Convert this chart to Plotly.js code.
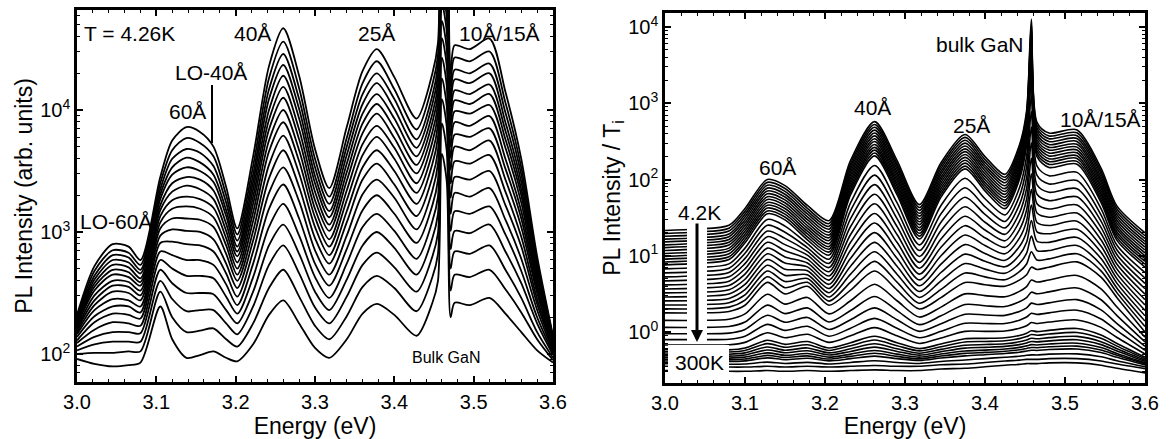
<!DOCTYPE html>
<html>
<head>
<meta charset="utf-8">
<script src="https://cdn.plot.ly/plotly-3.0.1.min.js"></script>
<style>html,body{margin:0;padding:0;background:#fff;}#chart{width:1175px;height:439px;}</style>
</head>
<body>
<div id="chart"></div>
<script>
// ---------- Left panel: PL spectra at T = 4.26 K (bottom curve first) ----------
const energyLeft = [3.000,3.022,3.045,3.065,3.080,3.105,3.120,3.138,3.155,3.172,3.188,3.202,3.222,3.242,3.260,3.280,3.300,3.318,3.340,3.360,3.378,3.400,3.428,3.448,3.455,3.460,3.466,3.471,3.476,3.495,3.520,3.540,3.560,3.580,3.600];
const leftSpectra = [
[91,83,79,81,85,245,132,93,98,105,93,87,120,209,275,178,112,93,132,214,257,209,141,263,398,4370,2620,200,263,251,288,214,151,107,85],
[100,102,102,105,105,324,200,151,155,162,132,115,178,347,490,295,170,132,204,355,437,347,224,427,661,7760,4660,331,447,427,490,339,219,132,89],
[107,120,126,126,126,398,282,224,229,229,178,145,245,537,776,457,240,178,295,537,676,513,324,631,977,12300,7380,501,692,661,776,490,288,151,93],
[115,138,151,151,148,490,380,316,316,309,229,178,324,776,1150,661,324,229,407,776,1000,741,447,891,1410,18200,10900,724,1020,977,1150,692,380,178,98],
[123,158,182,178,170,589,501,437,437,417,295,214,427,1100,1700,933,427,288,550,1100,1410,1020,603,1230,1950,26900,16100,1020,1480,1410,1620,955,479,200,102],
[129,182,214,209,195,692,646,589,589,537,372,251,550,1550,2450,1290,550,363,724,1510,2000,1410,813,1660,2690,38900,23300,1410,2090,1950,2290,1260,603,229,105],
[138,204,245,245,219,813,832,794,776,692,457,295,692,2090,3390,1780,708,447,933,2040,2690,1910,1050,2190,3630,53700,32200,1910,2820,2690,3160,1660,759,257,110],
[145,229,282,275,245,933,1050,1020,1000,871,550,347,851,2750,4680,2340,891,550,1200,2690,3630,2450,1350,2820,4680,74100,44500,2510,3800,3630,4270,2140,912,282,112],
[151,251,324,316,275,1070,1290,1290,1260,1100,661,398,1020,3550,6170,3020,1100,646,1480,3390,4680,3160,1700,3630,6030,97700,58600,3240,5010,4680,5620,2690,1100,316,115],
[158,275,363,355,302,1200,1550,1620,1550,1320,776,447,1230,4570,7940,3800,1320,759,1820,4270,6030,3980,2090,4470,7590,126000,75600,4070,6310,6030,7080,3310,1290,339,117],
[162,302,398,389,331,1350,1820,1950,1860,1580,891,501,1450,5620,10000,4680,1550,871,2190,5250,7410,4900,2510,5500,9330,158000,94800,5010,7940,7410,8910,3980,1480,372,120],
[170,331,447,427,363,1510,2140,2400,2240,1860,1020,562,1700,6920,12600,5750,1820,1020,2630,6460,9330,5890,3020,6610,11200,200000,120000,6170,9770,9330,11000,4900,1740,398,123],
[174,355,490,468,389,1660,2510,2820,2690,2190,1170,631,1950,8320,15500,6920,2140,1150,3090,7760,11200,7080,3550,7940,13500,245000,147000,7410,12000,11200,13500,5750,2000,427,126],
[182,380,537,513,417,1860,2950,3390,3160,2570,1350,692,2240,10000,19100,8510,2510,1320,3630,9330,13500,8510,4170,9330,16200,302000,181000,8910,14500,13500,16200,6760,2240,468,129],
[186,407,589,562,457,2040,3390,4070,3720,2950,1510,759,2570,12300,23400,10200,2880,1480,4270,11200,16600,10200,4900,11200,19500,372000,223000,10700,17800,16600,20000,7940,2570,501,132],
[195,437,646,617,490,2240,3980,4790,4470,3470,1740,851,2950,14800,28800,12300,3390,1700,5010,13500,20000,12300,5750,13200,23400,457000,274000,12900,21400,20000,24000,9550,2950,537,135],
[200,479,708,676,537,2510,4680,5890,5370,4170,2000,955,3470,18200,36300,15100,3980,1950,5890,16600,25100,14800,6920,16200,28200,575000,345000,15800,26900,25100,30200,11500,3390,575,138],
[209,525,794,759,589,2820,5620,7240,6610,5010,2340,1070,4170,22900,46800,19100,4790,2290,7240,20900,31600,18600,8510,20000,35500,741000,445000,20000,33900,31600,38500,14100,3980,631,141]
];

// ---------- Right panel: PL intensity / T_i, 4.2 K (first) to 300 K (last) ----------
const energyRight = [3.000,3.040,3.080,3.100,3.128,3.150,3.178,3.205,3.232,3.262,3.290,3.318,3.345,3.375,3.400,3.425,3.443,3.452,3.458,3.465,3.480,3.515,3.545,3.565,3.600];
const rightSpectra = [
[21.4,22.4,25.1,41.7,100,83.2,45.7,28.8,178,575,178,46.8,166,389,200,117,282,794,12600,562,407,447,141,44.7,20.0],
[19.6,20.5,23.0,38.2,91.7,76.3,41.9,26.4,163,527,163,42.9,152,357,183,107,259,728,10800,515,373,410,129,41.0,18.3],
[18.0,18.8,21.1,35.1,84.1,70.0,38.5,24.3,150,484,150,39.4,140,327,168,98.9,237,668,9270,473,343,376,119,37.6,16.8],
[16.5,17.2,19.3,32.2,77.1,64.2,35.3,22.3,138,444,138,36.1,128,300,154,90.7,217,613,7950,434,315,345,109,34.5,15.4],
[15.2,15.9,17.8,29.5,70.8,58.9,32.4,20.4,126,407,126,33.1,118,275,142,82.9,200,562,6820,398,288,316,100,31.6,14.2],
[13.9,14.6,16.3,27.1,64.9,54.0,29.7,18.7,116,373,116,30.4,108,252,130,76.0,183,515,5850,365,264,290,91.7,29.0,13.0],
[12.8,13.4,15.0,24.9,59.6,49.6,27.2,17.2,106,343,106,27.9,99.0,232,119,69.7,168,473,5010,335,243,266,84.0,26.6,11.9],
[11.7,12.3,13.8,22.8,54.7,45.5,24.9,15.8,97.2,315,97.2,25.6,90.8,213,109,63.9,154,434,4310,307,223,244,77.0,24.4,10.9],
[10.7,11.2,12.6,20.9,50.1,41.7,22.9,14.4,89.2,288,89.2,23.4,83.2,195,100,58.6,141,398,3700,282,204,224,70.6,22.4,10.0],
[9.81,10.3,11.6,19.2,45.9,38.2,21.0,13.2,81.8,264,81.8,21.5,76.3,179,91.7,53.7,129,365,3170,259,187,205,64.7,20.5,9.17],
[9.03,9.45,10.6,17.6,42.2,35.1,19.3,12.2,75.1,243,75.1,19.7,70.1,164,84.4,49.4,119,335,2720,237,172,189,59.5,18.9,8.44],
[8.28,8.67,9.72,16.1,38.7,32.2,17.7,11.2,68.9,223,68.9,18.1,64.3,150,77.4,45.3,109,307,2330,217,158,173,54.6,17.3,7.74],
[7.60,7.95,8.91,14.8,35.5,29.5,16.2,10.2,63.2,204,63.2,16.6,58.9,138,71.0,41.5,100,282,2000,200,144,159,50.1,15.9,7.10],
[6.72,7.01,7.82,12.6,29.9,24.5,14.4,9.02,49.6,153,49.6,13.9,45.7,104,55.9,34.3,77.6,203,1250,150,112,124,41.5,13.7,6.02],
[5.96,6.19,6.87,10.8,25.1,20.3,12.8,7.94,39.1,114,39.1,11.7,35.5,78.0,44.2,28.2,60.3,147,779,113,87.4,97.0,34.4,11.9,5.11],
[5.28,5.47,6.03,9.23,21.1,16.9,11.4,7.00,30.7,85.6,30.7,9.77,27.5,58.6,34.9,23.2,46.8,106,487,85.1,68.0,75.9,28.5,10.3,4.34],
[4.68,4.82,5.29,7.88,17.8,14.0,10.2,6.17,24.2,64.1,24.2,8.19,21.4,44.0,27.5,19.1,36.3,76.4,304,64.1,52.9,59.3,23.6,8.91,3.69],
[4.15,4.26,4.64,6.73,15.0,11.6,9.03,5.43,19.0,48.0,19.0,6.87,16.6,33.0,21.8,15.7,28.2,55.2,190,48.2,41.1,46.4,19.6,7.72,3.13],
[3.67,3.76,4.07,5.75,12.6,9.66,8.04,4.79,15.0,35.9,15.0,5.75,12.9,24.8,17.2,12.9,21.9,39.8,119,36.3,32.0,36.3,16.2,6.68,2.66],
[3.26,3.32,3.58,4.92,10.6,8.02,7.15,4.22,11.8,26.9,11.8,4.82,10.0,18.7,13.6,10.6,17.0,28.7,74.3,27.3,24.9,28.4,13.4,5.79,2.26],
[2.88,2.93,3.14,4.20,8.91,6.66,6.36,3.72,9.26,20.1,9.26,4.04,7.76,14.0,10.7,8.71,13.2,20.7,46.4,20.6,19.4,22.2,11.1,5.01,1.92],
[2.56,2.59,2.75,3.59,7.50,5.53,5.65,3.27,7.29,15.0,7.29,3.39,6.03,10.5,8.46,7.16,10.2,15.0,29.0,15.5,15.0,17.4,9.23,4.34,1.63],
[2.26,2.28,2.42,3.07,6.31,4.59,5.03,2.88,5.73,11.3,5.73,2.84,4.68,7.91,6.68,5.89,7.94,10.8,18.1,11.7,11.7,13.6,7.64,3.76,1.39],
[2.01,2.01,2.12,2.62,5.31,3.81,4.48,2.54,4.51,8.43,4.51,2.38,3.63,5.94,5.28,4.84,6.17,7.79,11.3,8.78,9.10,10.6,6.34,3.26,1.18],
[1.78,1.78,1.86,2.24,4.47,3.16,3.98,2.24,3.55,6.31,3.55,2.00,2.82,4.47,4.17,3.98,4.79,5.62,7.08,6.61,7.08,8.32,5.25,2.82,1.00],
[1.42,1.42,1.47,1.73,3.13,2.32,2.84,1.73,2.57,4.23,2.57,1.57,2.12,3.16,3.00,2.90,3.41,3.94,4.80,4.52,4.81,5.52,3.68,2.13,0.857],
[1.15,1.15,1.18,1.35,2.25,1.74,2.07,1.35,1.91,2.92,1.91,1.25,1.63,2.30,2.21,2.16,2.49,2.82,3.33,3.17,3.36,3.78,2.65,1.64,0.741],
[0.948,0.948,0.966,1.08,1.66,1.34,1.55,1.08,1.45,2.07,1.45,1.02,1.28,1.71,1.67,1.65,1.86,2.07,2.39,2.29,2.41,2.66,1.95,1.29,0.650],
[0.794,0.794,0.804,0.881,1.26,1.05,1.19,0.881,1.12,1.51,1.12,0.841,1.02,1.30,1.29,1.29,1.43,1.57,1.76,1.70,1.78,1.93,1.48,1.04,0.575],
[0.676,0.676,0.679,0.731,0.977,0.839,0.933,0.731,0.891,1.14,0.891,0.708,0.836,1.02,1.02,1.03,1.12,1.21,1.33,1.29,1.35,1.44,1.15,0.847,0.515],
[0.585,0.585,0.583,0.618,0.778,0.689,0.750,0.618,0.724,0.879,0.724,0.605,0.697,0.817,0.824,0.839,0.902,0.964,1.04,1.01,1.05,1.11,0.914,0.708,0.467],
[0.548,0.548,0.546,0.573,0.703,0.631,0.681,0.573,0.661,0.784,0.661,0.565,0.642,0.740,0.751,0.766,0.819,0.870,0.928,0.907,0.941,0.986,0.826,0.653,0.447],
[0.514,0.514,0.511,0.532,0.635,0.577,0.618,0.532,0.603,0.700,0.603,0.527,0.592,0.670,0.684,0.700,0.743,0.785,0.828,0.815,0.843,0.875,0.746,0.603,0.427],
[0.486,0.486,0.482,0.499,0.581,0.534,0.568,0.499,0.556,0.633,0.556,0.497,0.552,0.615,0.629,0.647,0.683,0.719,0.751,0.742,0.765,0.790,0.683,0.562,0.411],
[0.459,0.459,0.454,0.468,0.532,0.494,0.522,0.468,0.513,0.573,0.513,0.468,0.514,0.564,0.579,0.598,0.628,0.658,0.682,0.675,0.695,0.713,0.625,0.524,0.395],
[0.437,0.437,0.431,0.442,0.493,0.462,0.486,0.442,0.479,0.526,0.479,0.444,0.484,0.524,0.540,0.559,0.584,0.609,0.627,0.622,0.640,0.653,0.579,0.494,0.382],
[0.417,0.417,0.410,0.418,0.457,0.433,0.452,0.418,0.447,0.483,0.447,0.422,0.455,0.486,0.504,0.522,0.543,0.564,0.577,0.573,0.589,0.598,0.537,0.465,0.370],
[0.385,0.385,0.377,0.380,0.403,0.387,0.400,0.380,0.398,0.419,0.398,0.386,0.411,0.430,0.448,0.467,0.481,0.495,0.501,0.500,0.513,0.516,0.473,0.420,0.350],
[0.355,0.355,0.347,0.347,0.355,0.347,0.355,0.347,0.355,0.363,0.355,0.355,0.372,0.380,0.398,0.417,0.427,0.437,0.437,0.437,0.447,0.447,0.417,0.380,0.331],
[0.312,0.312,0.305,0.305,0.312,0.305,0.312,0.305,0.312,0.319,0.312,0.312,0.327,0.334,0.350,0.367,0.376,0.385,0.385,0.385,0.393,0.393,0.367,0.334,0.291]
];

// ---------- Tick labels ----------
const leftTickVals = [100, 1000, 10000];
const leftTickText = ['10<sup>2</sup>', '10<sup>3</sup>', '10<sup>4</sup>'];
const rightTickVals = [1, 10, 100, 1000, 10000];
const rightTickText = ['10<sup>0</sup>', '10<sup>1</sup>', '10<sup>2</sup>', '10<sup>3</sup>', '10<sup>4</sup>'];
const leftMinor = [60,70,80,90,200,300,400,500,600,700,800,900,2000,3000,4000,5000,6000,7000,8000,9000,20000,30000,40000,50000,60000];
const rightMinor = [0.3,0.4,0.5,0.6,0.7,0.8,0.9,2,3,4,5,6,7,8,9,20,30,40,50,60,70,80,90,200,300,400,500,600,700,800,900,2000,3000,4000,5000,6000,7000,8000,9000,15000];

// ---------- Text labels ----------
const leftLabels = ['T = 4.26K', '40Å', 'LO-40Å', '60Å', '25Å', '10Å/15Å', 'LO-60Å', 'Bulk GaN'];
const rightLabels = ['bulk GaN', '40Å', '25Å', '10Å/15Å', '60Å', '4.2K', '300K'];

const FONT = 'Liberation Sans, Arial, Helvetica, sans-serif';
const traces = [];
leftSpectra.forEach(row => traces.push({
  x: energyLeft, y: row, xaxis: 'x', yaxis: 'y', type: 'scatter', mode: 'lines',
  line: {color: '#000', width: 1.8, shape: 'spline', smoothing: 0.8},
  hoverinfo: 'skip', showlegend: false
}));
rightSpectra.forEach(row => traces.push({
  x: energyRight, y: row, xaxis: 'x2', yaxis: 'y2', type: 'scatter', mode: 'lines',
  line: {color: '#000', width: 1.6, shape: 'spline', smoothing: 0.8},
  hoverinfo: 'skip', showlegend: false
}));

function xAxis(domain, range, anchor) {
  return {
    domain: domain, range: range, anchor: anchor,
    showline: true, linecolor: '#000', linewidth: 2.5, mirror: 'allticks',
    ticks: 'inside', ticklen: 6, tickwidth: 1.5, tickcolor: '#000',
    tick0: 3.0, dtick: 0.1, tickformat: '.1f',
    minor: {ticks: 'inside', dtick: 0.02, tick0: 3.0, ticklen: 3, tickwidth: 1.2, tickcolor: '#000'},
    showgrid: false, zeroline: false,
    tickfont: {family: FONT, size: 20, color: '#000'},
    title: {text: 'Energy (eV)', font: {family: FONT, size: 23, color: '#000'}, standoff: 4}
  };
}
function yAxis(domain, range, anchor, vals, text, minorVals, titleText) {
  return {
    type: 'log', domain: domain, range: range, anchor: anchor,
    showline: true, linecolor: '#000', linewidth: 2.5, mirror: 'allticks',
    ticks: 'inside', ticklen: 6, tickwidth: 1.5, tickcolor: '#000',
    tickmode: 'array', tickvals: vals, ticktext: text,
    minor: {ticks: 'inside', tickmode: 'array', tickvals: minorVals, ticklen: 3, tickwidth: 1.2, tickcolor: '#000'},
    showgrid: false, zeroline: false,
    tickfont: {family: FONT, size: 20, color: '#000'},
    title: {text: titleText, font: {family: FONT, size: 23, color: '#000'}, standoff: 2}
  };
}

const W = 1068, H = 373, L = 77, T = 10;
const px = v => (v - L) / W;
const py = v => (T + H - v) / H;
function ann(text, x, y, size) {
  return {text: text, xref: 'paper', yref: 'paper', x: px(x), y: py(y),
    xanchor: 'center', yanchor: 'middle', showarrow: false,
    font: {family: FONT, size: size || 21, color: '#000'}};
}

const annotations = [
  ann(leftLabels[0], 129, 33), ann(leftLabels[1], 252, 33), ann(leftLabels[2], 211, 72),
  ann(leftLabels[3], 187, 112), ann(leftLabels[4], 376, 33), ann(leftLabels[5], 499, 33),
  ann(leftLabels[6], 116, 222), ann(leftLabels[7], 446, 357, 16),
  ann(rightLabels[0], 980, 45), ann(rightLabels[1], 872, 108), ann(rightLabels[2], 971, 125),
  ann(rightLabels[3], 1100, 120), ann(rightLabels[4], 777, 168), ann(rightLabels[5], 699, 213),
  ann(rightLabels[6], 699, 362),
  {text: '', xref: 'paper', yref: 'paper', x: px(697), y: py(342), ax: 0, ay: -120,
   showarrow: true, arrowhead: 2, arrowsize: 0.8, arrowwidth: 3, arrowcolor: '#000', standoff: 0, startstandoff: 0}
];

const shapes = [
  {type: 'line', xref: 'paper', yref: 'paper', x0: px(212), x1: px(212), y0: py(85), y1: py(143),
   line: {color: '#000', width: 2}, layer: 'above'},
  {type: 'rect', xref: 'paper', yref: 'paper', x0: px(687), x1: px(707), y0: py(344), y1: py(225),
   fillcolor: '#fff', line: {width: 0}, layer: 'above'},
  {type: 'rect', xref: 'paper', yref: 'paper', x0: px(668), x1: px(729), y0: py(380), y1: py(345),
   fillcolor: '#fff', line: {width: 0}, layer: 'above'}
];

const layout = {
  width: 1175, height: 439,
  margin: {l: L, r: 1175 - L - W, t: T, b: 439 - T - H, pad: 0},
  paper_bgcolor: '#fff', plot_bgcolor: '#fff',
  font: {family: FONT, color: '#000'},
  showlegend: false,
  xaxis: xAxis([0, px(553)], [3.0, 3.6], 'y'),
  yaxis: yAxis([py(382), 1], [1.77, 4.82], 'x', leftTickVals, leftTickText, leftMinor, 'PL Intensity (arb. units)'),
  xaxis2: xAxis([px(665), 1], [3.0, 3.6], 'y2'),
  yaxis2: yAxis([0, py(13)], [-0.669, 4.184], 'x2', rightTickVals, rightTickText, rightMinor, 'PL Intensity / T<sub>i</sub>'),
  annotations: annotations,
  shapes: shapes
};

Plotly.newPlot('chart', traces, layout, {displayModeBar: false, responsive: false});
</script>
</body>
</html>
